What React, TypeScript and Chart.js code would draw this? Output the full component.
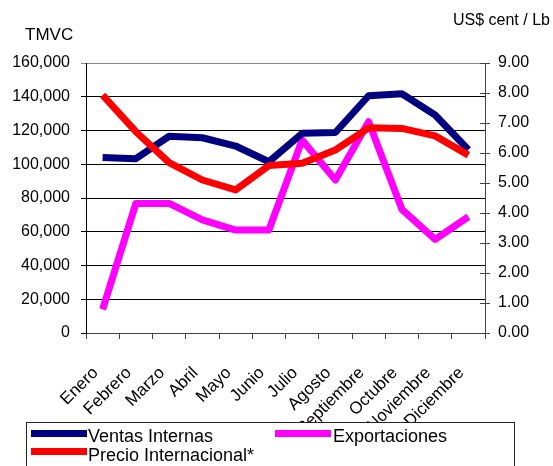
import React, { useEffect, useRef } from 'react';
import { Chart, registerables } from 'chart.js';

Chart.register(...registerables);

const months = ['Enero', 'Febrero', 'Marzo', 'Abril', 'Mayo', 'Junio', 'Julio', 'Agosto', 'Septiembre', 'Octubre', 'Noviembre', 'Diciembre'];
const ventasInternas = [104000, 103300, 116600, 115700, 110800, 101500, 118300, 118800, 140600, 141800, 129200, 108600];
const exportaciones = [14000, 76800, 76800, 67000, 61000, 61000, 114400, 90700, 125200, 73300, 55500, 68900];
const precioInternacional = [7.93, 6.71, 5.68, 5.1, 4.77, 5.58, 5.66, 6.1, 6.84, 6.82, 6.57, 5.93];

const seriesNames = ['Ventas Internas', 'Exportaciones', 'Precio Internacional*'];
const seriesColors = ['#000080', '#FF00FF', '#FF0000'];
const leftTitle = 'TMVC';
const rightTitle = 'US$ cent / Lb';

const FONT = '"Liberation Sans", Arial, sans-serif';

const decorPlugin = {
  id: 'decor',
  afterDraw(chart: any) {
    const ctx = chart.ctx as CanvasRenderingContext2D;
    ctx.save();
    ctx.fillStyle = '#000';
    ctx.textBaseline = 'alphabetic';
    ctx.textAlign = 'left';
    ctx.font = `17px ${FONT}`;
    ctx.fillText(leftTitle, 25, 40);
    ctx.font = `16px ${FONT}`;
    ctx.fillText(rightTitle, 453, 25);

    const y1 = chart.scales.y1;
    const area = chart.chartArea;
    ctx.strokeStyle = '#444';
    ctx.lineWidth = 1;
    for (const t of y1.ticks) {
      const y = Math.round(y1.getPixelForValue(t.value)) + 0.5;
      ctx.beginPath();
      ctx.moveTo(area.right - 5, y);
      ctx.lineTo(area.right, y);
      ctx.stroke();
    }

    // legend box
    ctx.fillStyle = '#fff';
    ctx.fillRect(27, 422, 487, 50);
    ctx.strokeStyle = '#222';
    ctx.lineWidth = 1;
    ctx.strokeRect(26.5, 422.5, 488, 60);
    const items = [
      { x: 31, y: 433.5, tx: 88, base: 442 },
      { x: 275, y: 433.5, tx: 333, base: 442 },
      { x: 31, y: 451.5, tx: 88, base: 460.5 },
    ];
    ctx.font = `18px ${FONT}`;
    items.forEach((it, i) => {
      ctx.strokeStyle = seriesColors[i];
      ctx.lineWidth = 7;
      ctx.beginPath();
      ctx.moveTo(it.x, it.y);
      ctx.lineTo(it.x + 56, it.y);
      ctx.stroke();
      ctx.fillStyle = '#000';
      ctx.fillText(seriesNames[i], it.tx, it.base);
    });
    ctx.restore();
  },
};

export default function App() {
  const ref = useRef<HTMLCanvasElement | null>(null);

  useEffect(() => {
    if (!ref.current) return;
    const tickFont = { family: FONT, size: 16 };
    const xFont = { family: FONT, size: 17 };
    const mk = (i: number, data: number[], axis: string, order: number) => ({
      label: seriesNames[i],
      data,
      yAxisID: axis,
      borderColor: seriesColors[i],
      backgroundColor: seriesColors[i],
      borderWidth: 7,
      pointRadius: 0,
      tension: 0,
      borderJoinStyle: 'round',
      order,
    });
    const chart = new Chart(ref.current, {
      type: 'line',
      data: {
        labels: months,
        datasets: [
          mk(2, precioInternacional, 'y1', 0),
          mk(0, ventasInternas, 'y', 1),
          mk(1, exportaciones, 'y', 2),
        ],
      },
      options: {
        responsive: false,
        animation: false,
        layout: { padding: { top: 63, left: 0, right: 0, bottom: 0 } },
        plugins: {
          legend: { display: false },
          tooltip: { enabled: false },
          title: { display: false },
        },
        scales: {
          x: {
            type: 'category',
            offset: true,
            grid: { offset: true, drawOnChartArea: false, tickLength: 6, color: '#444' },
            border: { color: '#444', width: 1 },
            ticks: { minRotation: 45, maxRotation: 45, autoSkip: false, font: xFont, color: '#000', padding: 24, labelOffset: -7 },
            afterFit: (s: any) => { s.height = 466 - 333; },
          },
          y: {
            position: 'left',
            min: 0,
            max: 160000,
            ticks: {
              stepSize: 20000,
              font: tickFont,
              color: '#000',
              padding: 11,
              callback: (v: any) => Number(v).toLocaleString('en-US'),
            },
            grid: {
              tickLength: 5,
              color: (c: any) => (c.tick && c.tick.value === 160000 ? '#888' : '#000'),
            },
            border: { color: '#000', width: 1 },
            afterFit: (s: any) => { s.width = 86; },
          },
          y1: {
            position: 'right',
            min: 0,
            max: 9,
            ticks: {
              stepSize: 1,
              font: tickFont,
              color: '#000',
              padding: 8,
              callback: (v: any) => Number(v).toFixed(2),
            },
            grid: { drawOnChartArea: false, tickLength: 5, color: '#444' },
            border: { color: '#444', width: 1 },
            afterFit: (s: any) => { s.width = 553 - 485; },
          },
        },
      },
      plugins: [decorPlugin],
    } as any);
    return () => chart.destroy();
  }, []);

  return (
    <div style={{ position: 'fixed', left: 0, top: 0, width: 553, height: 466, background: '#fff' }}>
      <canvas ref={ref} width={553} height={466} style={{ display: 'block' }} />
    </div>
  );
}
